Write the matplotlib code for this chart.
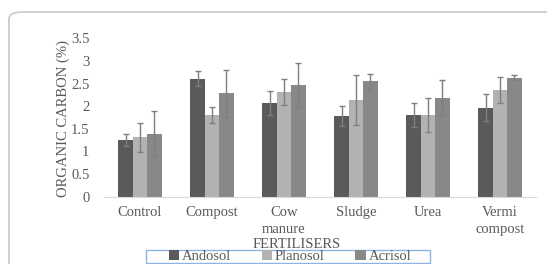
import matplotlib
matplotlib.use("Agg")
import matplotlib.pyplot as plt
import numpy as np
from matplotlib.patches import FancyBboxPatch, Rectangle

plt.rcParams['font.family'] = ['Liberation Serif', 'DejaVu Serif']

categories = ['Control', 'Compost', 'Cow\nmanure', 'Sludge', 'Urea', 'Vermi\ncompost']
series = ['Andosol', 'Planosol', 'Acrisol']
andosol = [1.25, 2.61, 2.07, 1.78, 1.81, 1.97]
planosol = [1.31, 1.81, 2.32, 2.13, 1.81, 2.36]
acrisol = [1.39, 2.29, 2.47, 2.55, 2.19, 2.63]
andosol_err = [0.13, 0.17, 0.27, 0.22, 0.27, 0.30]
planosol_err = [0.32, 0.18, 0.29, 0.55, 0.37, 0.29]
acrisol_err = [0.50, 0.52, 0.48, 0.17, 0.39, 0.05]
yticks = [0, 0.5, 1, 1.5, 2, 2.5, 3, 3.5]
ytick_labels = ['0', '0.5', '1', '1.5', '2', '2.5', '3', '3.5']

colors = ['#5a5a5a', '#b2b2b2', '#888888']
values = [andosol, planosol, acrisol]
errors = [andosol_err, planosol_err, acrisol_err]

W, H = 547, 264
fs = 10.5
tc = '#595959'
fig = plt.figure(figsize=(W / 100, H / 100), dpi=100)

# rounded outer frame
frame = FancyBboxPatch((9 / W, -0.2), 1.2, (H - 12) / H + 0.2,
                       boxstyle="round,pad=0,rounding_size=0.025",
                       transform=fig.transFigure, facecolor='white',
                       edgecolor='#cccccc', linewidth=1.3, zorder=-10)
fig.patches.append(frame)

ax = fig.add_axes([104 / W, (H - 196.7) / H, 432 / W, 158.4 / H])
ax.set_facecolor('none')
ax.set_zorder(2)

x = np.arange(len(categories))
bw = 0.2
for i in range(3):
    ax.bar(x + (i - 1) * bw, values[i], bw, color=colors[i], label=series[i],
           yerr=errors[i], ecolor='#7f7f7f',
           error_kw=dict(elinewidth=1.0, capsize=2.5, capthick=1.0))

ax.set_xlim(-0.5, len(categories) - 0.5)
ax.set_ylim(0, 3.5)
ax.set_yticks(yticks)
ax.set_yticklabels(ytick_labels)
ax.set_xticks(x)
ax.set_xticklabels(categories, linespacing=1.35)
ax.tick_params(axis='both', length=0, labelsize=fs, colors=tc)
ax.tick_params(axis='y', pad=10.5)
ax.tick_params(axis='x', pad=7)
for s in ['top', 'right', 'left']:
    ax.spines[s].set_visible(False)
ax.spines['bottom'].set_color('#d9d9d9')

fig.text(63 / W, 1 - 119 / H, 'ORGANIC CARBON (%)', rotation=90,
         ha='center', va='center', fontsize=fs, color=tc)
fig.text(297 / W, 1 - 244.5 / H, 'FERTILISERS', ha='center', va='center',
         fontsize=fs, color=tc, zorder=1)

# legend box
box = Rectangle((146 / W, 1 - 262.8 / H), 284 / W, 12.8 / H,
                transform=fig.transFigure, facecolor='white',
                edgecolor='#8eb4e3', linewidth=1.0, zorder=2)
fig.patches.append(box)

leg = fig.legend(loc='center', bbox_to_anchor=(290 / W, 1 - 256.5 / H),
                 ncol=3, fontsize=fs, frameon=False,
                 handlelength=0.7, handleheight=0.7,
                 handletextpad=0.2, columnspacing=2.1, borderpad=0.05,
                 labelcolor=tc)
leg.set_zorder(3)

fig.savefig('out.png', dpi=100)
